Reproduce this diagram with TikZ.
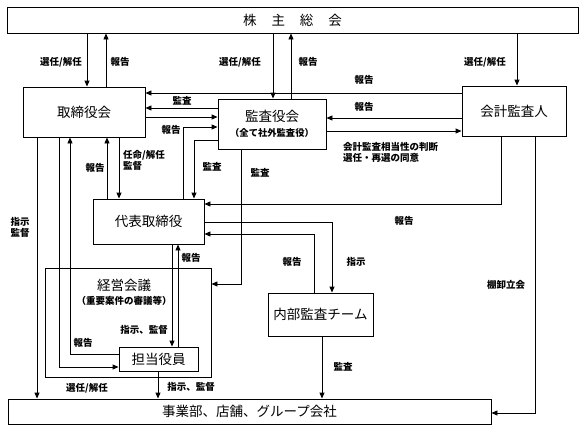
\documentclass[tikz,border=0pt]{standalone}
\usepackage{fontspec}
\setmainfont{Noto Sans CJK JP}
\usetikzlibrary{arrows.meta}
\tikzset{
Box/.style={
	draw, line width=0.9pt,
	inner sep=0pt,
	align=center,
	font=\fontsize{13.5}{16}\selectfont
},
Note/.style={
	inner sep=0pt,
	align=left,
	font=\bfseries\fontsize{9.5}{11.5}\selectfont
},
Edge/.style={
	draw=black, line width=0.9pt,
	-{Triangle[length=6pt,width=5pt]}
}
}

\begin{document}
\begin{tikzpicture}[x=1pt, y=-1pt]
	\useasboundingbox (0,0) rectangle (586,431);
	% boxes
	\node[Box, minimum width=571, minimum height=26] (GM) at (292.5,20) {株\hspace{1.1em}主\hspace{1.1em}総\hspace{1.1em}会};
	\node[Box, minimum width=122, minimum height=50] (Board) at (84,112) {取締役会};
	\node[Box, minimum width=108, minimum height=50] (Audit) at (272,124) {監査役会\\[-1pt]{\bfseries\fontsize{9.3}{11}\selectfont （全て社外監査役）}};
	\node[Box, minimum width=104, minimum height=50] (Acct) at (514,111) {会計監査人};
	\node[Box, minimum width=111, minimum height=45] (CEO) at (148.5,221.5) {代表取締役};
	\node[Box, minimum width=166, minimum height=109] (Mgmt) at (128,322.5) {};
	\node[align=center, inner sep=0pt, font=\fontsize{13.5}{16}\selectfont] (MgmtTitle) at (124,292) {経営会議\\[-2pt]{\bfseries\fontsize{9.5}{11}\selectfont （重要案件の審議等）}};
	\node[Box, minimum width=79, minimum height=24] (Officer) at (158.5,359) {担当役員};
	\node[Box, minimum width=105, minimum height=43] (Internal) at (320.5,314.5) {内部監査チーム};
	\node[Box, minimum width=483, minimum height=25] (Biz) at (249.5,411.5) {事業部、店舗、グループ会社};

	% shareholders
	\draw[Edge] (GM.south-|87,0) -- (Board.north-|87,0);
	\draw[Edge] (Board.north-|106,0) -- (GM.south-|106,0);
	\draw[Edge] (GM.south-|273,0) -- (Audit.north-|273,0);
	\draw[Edge] (Audit.north-|291,0) -- (GM.south-|291,0);
	\draw[Edge] (GM.south-|517,0) -- (Acct.north-|517,0);
	\node[Note] (n1) at (61,62) {選任/解任};
	\node[Note] (n2) at (120,62) {報告};
	\node[Note] (n3) at (240,62) {選任/解任};
	\node[Note] (n4) at (308,62) {報告};
	\node[Note] (n5) at (485,62) {選任/解任};

	% board, auditors
	\draw[Edge] (Acct.west|-0,93) -- (Board.east|-0,93);
	\draw[Edge] (Audit.west|-0,108) -- (Board.east|-0,108);
	\draw[Edge] (Board.east|-0,117) -- (Audit.west|-0,117);
	\draw[Edge] (CEO.north-|183,0) |- (Audit.west|-0,127);
	\draw[Edge] (Audit.west|-0,140) -| (CEO.north-|194,0);
	\draw[Edge] (Audit.south-|241,0) |- (Mgmt.east|-0,284);
	\draw[Edge] (Acct.west|-0,118) -- (Audit.east|-0,118);
	\draw[Edge] (Audit.east|-0,131) -- (Acct.west|-0,131);
	\node[Note] (n6) at (364,80) {報告};
	\node[Note] (n7) at (182,101) {監査};
	\node[Note] (n8) at (171,130) {報告};
	\node[Note] (n9) at (364,107) {報告};
	\node[Note, anchor=west] (n10) at (343,152.5) {会計監査相当性の判断\\選任・再選の同意};
	\node[Note] (n11) at (212,167) {監査};
	\node[Note] (n12) at (260,173) {監査};

	% accounting auditor
	\draw[Edge] (Acct.south-|501,0) |- (CEO.east|-0,204);
	\draw[Edge] (Acct.south-|535,0) |- (Biz.east|-0,413);
	\node[Note] (n13) at (404,221) {報告};
	\node[Note] (n14) at (506,285) {棚卸立会};

	% internal audit
	\draw[Edge] (CEO.east|-0,222) -| (Internal.north-|332,0);
	\draw[Edge] (Internal.north-|314,0) |- (CEO.east|-0,234);
	\draw[Edge] (Internal.south-|322,0) -- (Biz.north-|322,0);
	\node[Note] (n15) at (356,262) {指示};
	\node[Note] (n16) at (292,262) {報告};
	\node[Note] (n17) at (343,367) {監査};

	% board, CEO, officers
	\draw[Edge] (Board.south-|119,0) -- (CEO.north-|119,0);
	\draw[Edge] (CEO.north-|107,0) -- (Board.south-|107,0);
	\draw[Edge] (Board.south-|37,0) -- (Biz.north-|37,0);
	\draw[Edge] (Board.south-|59,0) |- (Officer.west|-0,367);
	\draw[Edge] (Officer.west|-0,354) -| (Board.south-|70,0);
	\draw[Edge] (CEO.south-|172,0) -- (Officer.north-|172,0);
	\draw[Edge] (Officer.north-|178,0) -- (CEO.south-|178,0);
	\draw[Edge] (Officer.south-|158,0) -- (Biz.north-|158,0);
	\node[Note, anchor=west] (n18) at (123,160.5) {任命/解任\\監督};
	\node[Note] (n19) at (95,168) {報告};
	\node[Note] (n20) at (20,227.5) {指示\\監督};
	\node[Note] (n21) at (87,388) {選任/解任};
	\node[Note] (n22) at (83,343) {報告};
	\node[Note] (n23) at (144,330) {指示、監督};
	\node[Note] (n24) at (191,258) {報告};
	\node[Note] (n25) at (191,387) {指示、監督};
\end{tikzpicture}
\end{document}
